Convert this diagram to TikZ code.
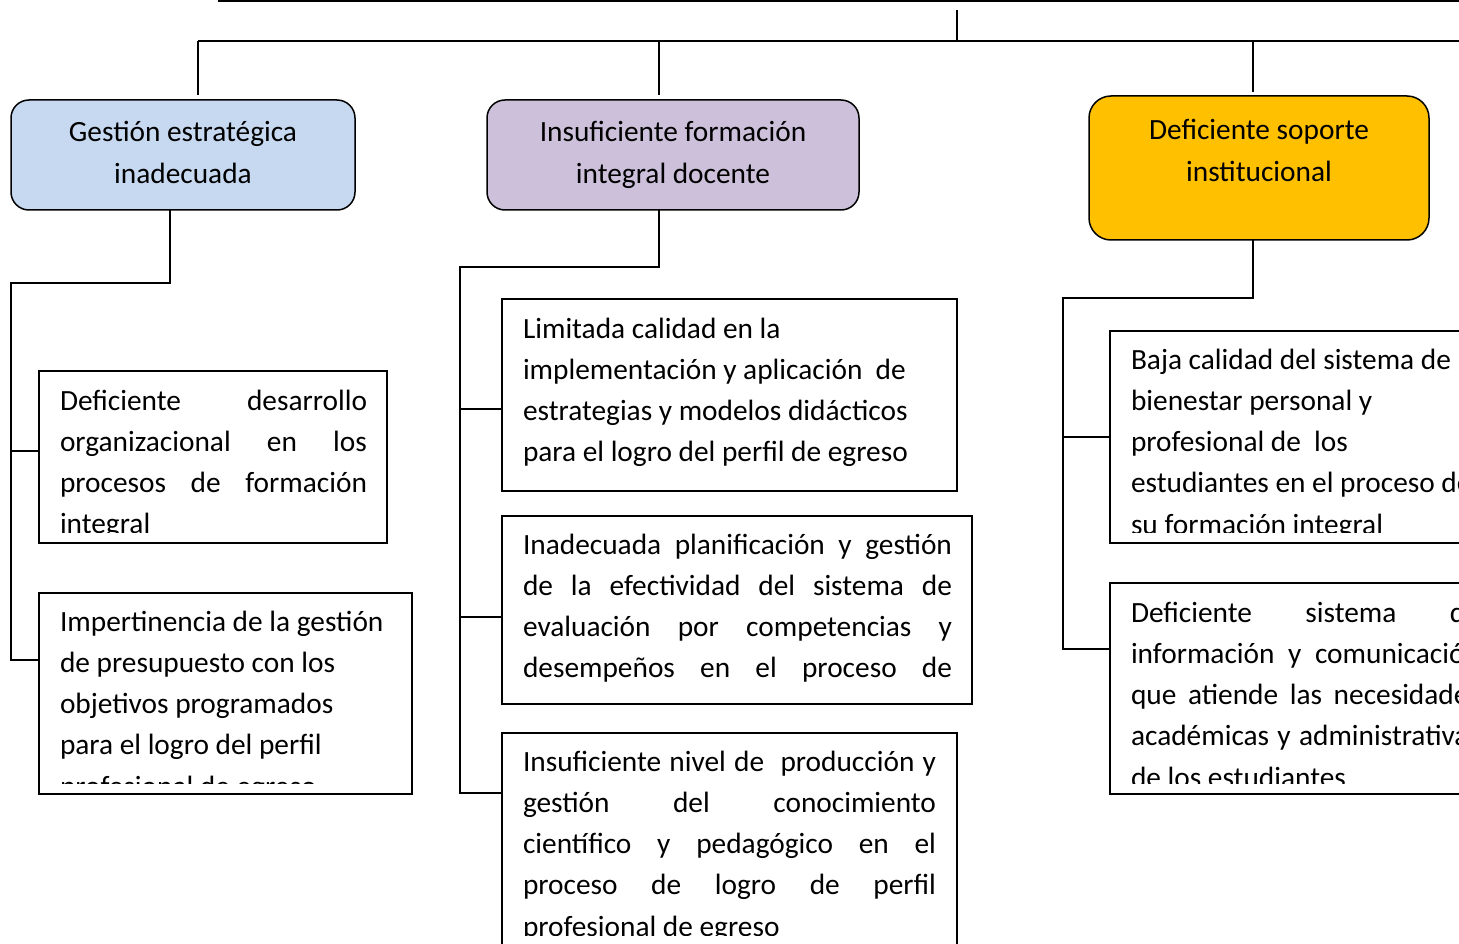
\documentclass[tikz,border=0pt]{standalone}
\usepackage{fontspec}
\setmainfont{Carlito}
\definecolor{hblue}{HTML}{C6D9F1}
\definecolor{hlav}{HTML}{CCC0DA}
\definecolor{horange}{HTML}{FFC000}
\newcommand{\sps}{\spaceskip=0.226em plus 0.08em minus 0.05em\relax\xspaceskip=0pt\relax}
\newcommand{\jl}[2]{\makebox[#1][s]{\spaceskip=0.226em plus 1fil\relax #2}}
\tikzset{
  head/.style={draw=black, line width=1.5pt, rounded corners=18pt, inner sep=0pt, outer sep=0pt},
  sub/.style={draw=black, line width=1.5pt, inner sep=0pt, outer sep=0pt},
  txt/.style={anchor=base west, inner sep=0pt, outer sep=0pt, text width=480pt,
    font=\fontsize{29.35}{41.3}\selectfont},
  htxt/.style={anchor=base, inner sep=0pt, outer sep=0pt, text width=340pt,
    font=\fontsize{29.35}{41.5}\selectfont},
  conn/.style={line width=1.5pt}
}
\begin{document}
\begin{tikzpicture}[x=1pt,y=-1pt]
\useasboundingbox (0,0) rectangle (1459,944);
\clip (0,0) rectangle (1459,944);

% header boxes
\node[head, fill=hblue, minimum width=344pt, minimum height=110pt] (b1) at (183,155) {};
\node[head, fill=hlav, minimum width=372pt, minimum height=110pt] (b2) at (673,155) {};
\node[head, fill=horange, rounded corners=22pt, minimum width=340pt, minimum height=144pt] (b3) at (1259,168) {};
\node[htxt] (h1) at (183,142) {\sps\centering Gestión estratégica\\inadecuada\par};
\node[htxt] (h2) at (673,142) {\sps\centering Insuficiente formación\\integral docente\par};
\node[htxt] (h3) at (1259,140) {\sps\centering Deficiente soporte\\institucional\par};

% sub boxes
\node[sub, minimum width=348pt, minimum height=172pt] (s1a) at (213,457) {};
\node[sub, minimum width=373pt, minimum height=201pt] (s1b) at (225.5,693.5) {};
\node[sub, minimum width=455pt, minimum height=192pt] (s2a) at (729.5,395) {};
\node[sub, minimum width=470pt, minimum height=188pt] (s2b) at (737,610) {};
\node[sub, minimum width=455pt, minimum height=227pt] (s2c) at (729.5,846.5) {};
\node[sub, minimum width=370pt, minimum height=212pt] (s3a) at (1295,437) {};
\node[sub, minimum width=370pt, minimum height=211pt] (s3b) at (1295,688.5) {};

% sub box texts (clipped like the text frames)
\begin{scope}
\clip (39,371) rectangle (387,532);
\node[txt] (t1a) at (60,410) {\sps\jl{307pt}{Deficiente desarrollo}\\\jl{307pt}{organizacional en los}\\\jl{307pt}{procesos de formación}\\integral};
\end{scope}
\begin{scope}
\clip (39,593) rectangle (412,783);
\node[txt] (t1b) at (60,631) {\sps Impertinencia de la gestión\\de presupuesto con los\\objetivos programados\\para el logro del perfil\\profesional de egreso};
\end{scope}
\begin{scope}
\clip (502,299) rectangle (957,491);
\node[txt] (t2a) at (523,338) {\sps Limitada calidad en la\\implementación y aplicación\ \ de\\estrategias y modelos didácticos\\para el logro del perfil de egreso};
\end{scope}
\begin{scope}
\clip (502,516) rectangle (972,704);
\node[txt] (t2b) at (523,554) {\sps\jl{429pt}{Inadecuada planificación y gestión}\\\jl{429pt}{de la efectividad del sistema de}\\\jl{429pt}{evaluación por competencias y}\\\jl{429pt}{desempeños en el proceso de}};
\end{scope}
\begin{scope}
\clip (502,733) rectangle (957,935);
\node[txt] (t2c) at (523,771) {\sps\jl{413pt}{Insuficiente nivel de\ \ producción y}\\\jl{413pt}{gestión del conocimiento}\\\jl{413pt}{científico y pedagógico en el}\\\jl{413pt}{proceso de logro de perfil}\\profesional de egreso};
\end{scope}
\begin{scope}
\clip (1110,331) rectangle (1480,532);
\node[txt] (t3a) at (1131,369) {\sps Baja calidad del sistema de\\bienestar personal y\\profesional de\ \ los\\estudiantes en el proceso de\\su formación integral};
\end{scope}
\begin{scope}
\clip (1110,583) rectangle (1480,783);
\node[txt] (t3b) at (1131,622) {\sps\jl{349pt}{Deficiente sistema de}\\\jl{349pt}{información y comunicación}\\\jl{349pt}{que atiende las necesidades}\\\jl{349pt}{académicas y administrativas}\\de los estudiantes};
\end{scope}

% top structure
\coordinate (topL) at (218,1);
\coordinate (topR) at (1459,1);
\coordinate (rootS) at (957,10);
\coordinate (rootB) at (957,41);
\coordinate (busL) at (198,41);
\coordinate (busR) at (1459,41);
\coordinate (d1) at (198,41);
\coordinate (d2) at (659,41);
\coordinate (d3) at (1253,41);
\draw[line width=2pt] (topL) -- (topR);
\draw[conn] (rootS) -- (rootB);
\draw[conn] (busL) -- (busR);
\draw[conn] (d1) -- ([yshift=5pt]b1.north -| d1);
\draw[conn] (d2) -- ([yshift=5pt]b2.north -| d2);
\draw[conn] (d3) -- ([yshift=4pt]b3.north -| d3);

% branch 1
\coordinate (c1) at (170,283);
\coordinate (v1) at (11,283);
\draw[conn] (b1.south -| c1) -- (c1) -- (v1) -- (v1 |- 0,660) -- (s1b.west |- 0,660);
\draw[conn] (v1 |- 0,451) -- (s1a.west |- 0,451);

% branch 2
\coordinate (c2) at (659,267);
\coordinate (v2) at (460,267);
\draw[conn] (b2.south -| c2) -- (c2) -- (v2) -- (v2 |- 0,793) -- (s2c.west |- 0,793);
\draw[conn] (v2 |- 0,409) -- (s2a.west |- 0,409);
\draw[conn] (v2 |- 0,617) -- (s2b.west |- 0,617);

% branch 3
\coordinate (c3) at (1253,298);
\coordinate (v3) at (1063,298);
\draw[conn] (b3.south -| c3) -- (c3) -- (v3) -- (v3 |- 0,649) -- (s3b.west |- 0,649);
\draw[conn] (v3 |- 0,437) -- (s3a.west |- 0,437);
\end{tikzpicture}
\end{document}
